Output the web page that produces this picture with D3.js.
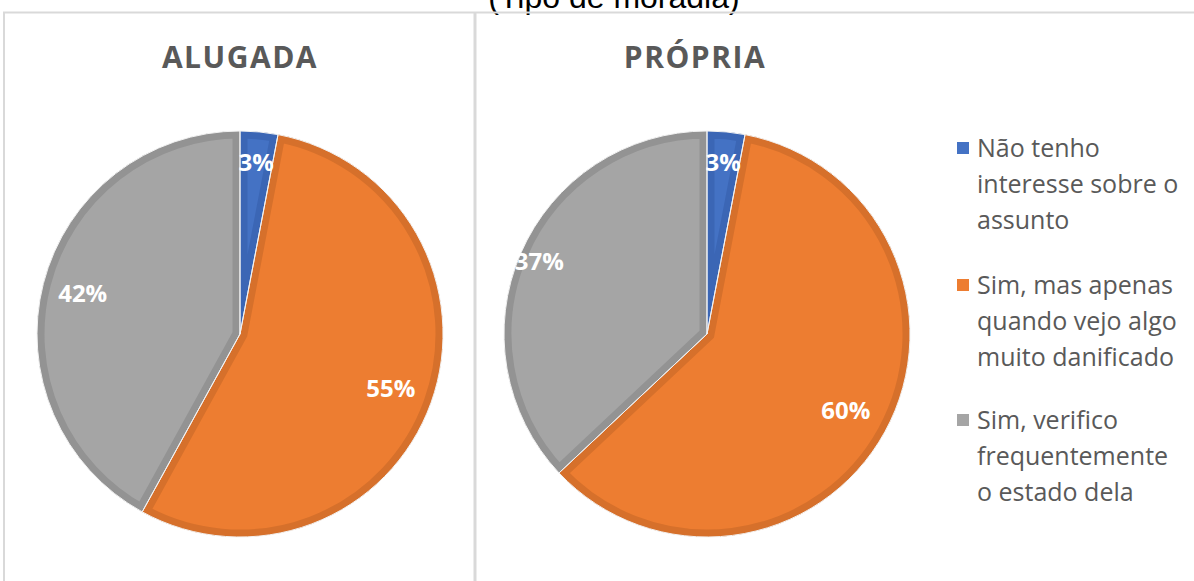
<!DOCTYPE html>
<html>
<head>
<meta charset="utf-8">
<script src="https://cdn.jsdelivr.net/npm/d3@7"></script>
<style>
  html, body { margin: 0; padding: 0; background: #fff; }
  svg { display: block; }
</style>
</head>
<body>
<svg id="chart" width="1194" height="581"></svg>
<script>
// Response categories (legend order = slice order, clockwise from 12 o'clock)
const categories = [
  "Não tenho interesse sobre o assunto",
  "Sim, mas apenas quando vejo algo muito danificado",
  "Sim, verifico frequentemente o estado dela"
];
// Wrapped legend lines for each category
const legendLines = [
  ["Não tenho", "interesse sobre o", "assunto"],
  ["Sim, mas apenas", "quando vejo algo", "muito danificado"],
  ["Sim, verifico", "frequentemente", "o estado dela"]
];
const groups = ["ALUGADA", "PRÓPRIA"];
const alugadaValues = [3, 55, 42];
const propriaValues = [3, 60, 37];
const chartTitle = "(Tipo de moradia)";

const fills   = ["#4472C4", "#ED7D31", "#A5A5A5"];
const borders = ["#3B66B5", "#D6702B", "#939393"];

const svg = d3.select("#chart");
const W = 1194, H = 581;

// Chart title (sits above the frame, partly clipped by the top of the page)
svg.append("text")
  .attr("x", 614).attr("y", 8)
  .attr("text-anchor", "middle")
  .attr("font-family", "Liberation Sans, Arial, sans-serif")
  .attr("font-size", 32)
  .attr("fill", "#000")
  .text(chartTitle);

// Frame and divider between the two pies
svg.append("path")
  .attr("d", `M4,${H + 2} V12.5 H${W + 2}`)
  .attr("fill", "none").attr("stroke", "#D9D9D9").attr("stroke-width", 2);
svg.append("line")
  .attr("x1", 475).attr("x2", 475).attr("y1", 12).attr("y2", H + 2)
  .attr("stroke", "#D9D9D9").attr("stroke-width", 3);

const pie = d3.pie().sort(null).value(d => d);
const R = 203;

const panels = [
  { name: groups[0], values: alugadaValues, cx: 240, cy: 334, titleX: 240, labelR: [0.85, 0.79, 0.80] },
  { name: groups[1], values: propriaValues, cx: 707, cy: 334, titleX: 695, labelR: [0.85, 0.78, 0.90] }
];

const arc = d3.arc().innerRadius(0).outerRadius(R);

panels.forEach((p, pi) => {
  svg.append("text")
    .attr("x", p.titleX).attr("y", 68)
    .attr("text-anchor", "middle")
    .attr("font-family", "Open Sans, sans-serif")
    .attr("font-weight", 700)
    .attr("font-size", 30)
    .attr("letter-spacing", 1.5)
    .attr("fill", "#595959")
    .text(p.name);

  const g = svg.append("g").attr("transform", `translate(${p.cx},${p.cy})`);
  const arcs = pie(p.values);

  arcs.forEach((a, i) => {
    const id = `clip-${pi}-${i}`;
    g.append("clipPath").attr("id", id)
      .append("path").attr("d", arc(a));
    // slice body
    g.append("path").attr("d", arc(a)).attr("fill", fills[i]);
    // darker inner rim, clipped to the slice
    g.append("path").attr("d", arc(a))
      .attr("fill", "none")
      .attr("stroke", borders[i])
      .attr("stroke-width", 15)
      .attr("stroke-linejoin", "miter")
      .attr("clip-path", `url(#${id})`);
  });
  // thin light separators between slices
  arcs.forEach(a => {
    g.append("path").attr("d", arc(a))
      .attr("fill", "none")
      .attr("stroke", "#F2F2F2")
      .attr("stroke-width", 1);
  });

  // percentage labels
  arcs.forEach((a, i) => {
    const mid = (a.startAngle + a.endAngle) / 2;
    const r = R * p.labelR[i];
    g.append("text")
      .attr("x", Math.sin(mid) * r)
      .attr("y", -Math.cos(mid) * r)
      .attr("dy", "0.35em")
      .attr("text-anchor", "middle")
      .attr("font-family", "Open Sans, sans-serif")
      .attr("font-weight", 700)
      .attr("font-size", 24)
      .attr("fill", "#fff")
      .text(`${a.data}%`);
  });
});

// Legend
const legend = svg.append("g");
const lineH = 36;
const blockTop = [148, 285, 420];
categories.forEach((c, i) => {
  legend.append("rect")
    .attr("x", 957).attr("y", blockTop[i] - 6)
    .attr("width", 12).attr("height", 12)
    .attr("fill", fills[i]);
  legendLines[i].forEach((t, j) => {
    legend.append("text")
      .attr("x", 977).attr("y", blockTop[i] + j * lineH)
      .attr("dy", "0.35em")
      .attr("font-family", "Open Sans, sans-serif")
      .attr("font-size", 25)
      .attr("fill", "#595959")
      .text(t);
  });
});
</script>
</body>
</html>
